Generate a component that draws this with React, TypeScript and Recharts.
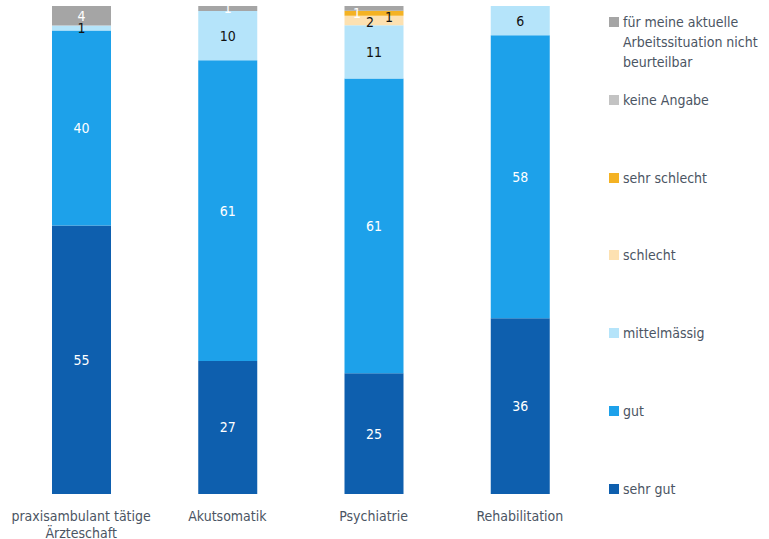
import { BarChart, Bar, XAxis, YAxis, LabelList, Text } from 'recharts';

const categories = ['praxisambulant tätige Ärzteschaft', 'Akutsomatik', 'Psychiatrie', 'Rehabilitation'];

const sehrGut = [55, 27, 25, 36];
const gut = [40, 61, 61, 58];
const mittelmaessig = [1, 10, 11, 6];
const schlecht = [0, 0, 2, 0];
const sehrSchlecht = [0, 0, 1, 0];
const keineAngabe = [0, 0, 0, 0];
const nichtBeurteilbar = [4, 1, 1, 0];

const series = [
  { key: 'sehrGut', name: 'sehr gut', values: sehrGut, color: '#0e5fae', label: '#ffffff' },
  { key: 'gut', name: 'gut', values: gut, color: '#1da1ea', label: '#ffffff' },
  { key: 'mittel', name: 'mittelmässig', values: mittelmaessig, color: '#b5e4fa', label: '#111111' },
  { key: 'schlecht', name: 'schlecht', values: schlecht, color: '#fde1b1', label: '#111111' },
  { key: 'sehrSchlecht', name: 'sehr schlecht', values: sehrSchlecht, color: '#f4b223', label: '#111111' },
  { key: 'keine', name: 'keine Angabe', values: keineAngabe, color: '#c3c3c3', label: '#ffffff' },
  { key: 'nicht', name: 'für meine aktuelle Arbeitssituation nicht beurteilbar', values: nichtBeurteilbar, color: '#a5a5a5', label: '#ffffff' },
];

const data = categories.map((c, i) => {
  const row: Record<string, string | number> = { name: c };
  series.forEach((s) => { row[s.key] = s.values[i]; });
  return row;
});

const FONT = "'Liberation Sans Narrow', 'DejaVu Sans Condensed', 'Roboto', sans-serif";
const TEXT = '#4b5563';

// small nudges for the crowded thin segments at the top of some bars (key-categoryIndex)
const nudge: Record<string, [number, number]> = {
  'schlecht-2': [-4, 2],
  'sehrSchlecht-2': [15, 4],
  'nicht-2': [-17, 5],
};

function makeLabel(key: string, values: number[], color: string) {
  // zero segments get no label entry, so map the label index back to the category
  const shown = values.map((v, i) => (v ? i : -1)).filter((i) => i >= 0);
  return (props: any) => {
    const { x, y, width, height, value, index } = props;
    if (!value) return null;
    const cat = shown.length < values.length && index < shown.length && values[index] !== value ? shown[index] : index;
    const [dx, dy] = nudge[`${key}-${cat}`] ?? [0, 0];
    return (
      <text
        x={x + width / 2 + dx}
        y={y + height / 2 + dy}
        textAnchor="middle"
        dominantBaseline="central"
        fill={color}
        fontSize={14}
        fontFamily={FONT}
      >
        {value}
      </text>
    );
  };
}

function CategoryTick(props: any) {
  const { x, y, payload } = props;
  return (
    <Text
      x={x}
      y={y + 9}
      width={140}
      textAnchor="middle"
      verticalAnchor="start"
      fill={TEXT}
      fontSize={14}
      fontFamily={FONT}
      lineHeight={17}
    >
      {payload.value}
    </Text>
  );
}

function LegendBox() {
  const items = [...series].reverse();
  return (
    <div style={{ position: 'absolute', left: 609, top: 12, width: 160, fontFamily: FONT, fontSize: 14, color: TEXT, lineHeight: '20px' }}>
      {items.map((s) => (
        <div key={s.key} style={{ height: 77.8, display: 'flex', alignItems: 'flex-start' }}>
          <span style={{ width: 10, height: 10, background: s.color, marginTop: 5, marginRight: 4, flexShrink: 0 }} />
          <span style={{ width: 146 }}>{s.name}</span>
        </div>
      ))}
    </div>
  );
}

export default function App() {
  return (
    <div style={{ position: 'absolute', left: 0, top: 0, width: 769, height: 539, background: '#fff' }}>
      <BarChart
        width={769}
        height={539}
        data={data}
        stackOffset="expand"
        margin={{ top: 6, right: 176, left: 8, bottom: 5 }}
      >
        <XAxis dataKey="name" axisLine={false} tickLine={false} height={40} interval={0} tick={<CategoryTick />} />
        <YAxis hide domain={[0, 1]} />
        {series.map((s) => (
          <Bar key={s.key} dataKey={s.key} name={s.name} stackId="a" fill={s.color} barSize={59} isAnimationActive={false}>
            <LabelList dataKey={s.key} content={makeLabel(s.key, s.values, s.label)} />
          </Bar>
        ))}
      </BarChart>
      <LegendBox />
    </div>
  );
}
